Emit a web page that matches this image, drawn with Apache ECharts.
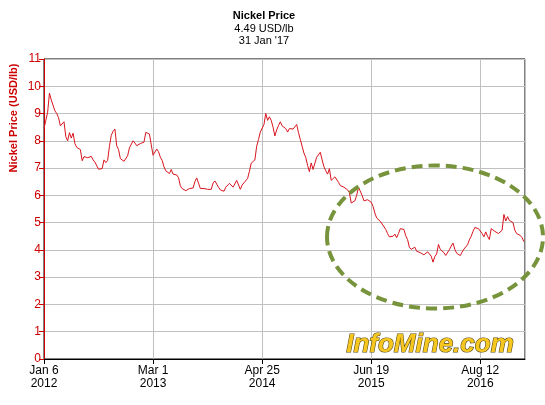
<!DOCTYPE html>
<html>
<head>
<meta charset="utf-8">
<script src="https://cdn.jsdelivr.net/npm/echarts@6/dist/echarts.min.js"></script>
<style>
  html, body { margin: 0; padding: 0; background: #fff; }
  #chart { width: 545px; height: 405px; }
</style>
</head>
<body>
<div id="chart"></div>
<script>
// weekly nickel price (USD/lb), one value per week starting Jan 6 2012
var prices = [
  8.45, 8.75, 9.05, 9.75, 9.5, 9.5, 9.1, 9.0, 8.85, 8.55,
  8.6, 8.7, 8.15, 8.0, 8.3, 8.1, 8.28, 7.9, 7.76, 7.74,
  7.68, 7.27, 7.42, 7.49, 7.38, 7.44, 7.43, 7.3, 7.22, 7.15,
  6.96, 6.9, 6.98, 7.3, 7.2, 7.28, 7.8, 8.2, 8.35, 8.43,
  7.82, 7.68, 7.35, 7.31, 7.25, 7.19, 7.45, 7.74, 7.74, 8.0,
  7.92, 7.82, 7.82, 7.9, 7.92, 7.95, 8.31, 8.29, 8.25, 7.85,
  7.47, 7.5, 7.7, 7.6, 7.4, 7.28, 7.05, 6.9, 6.92, 6.8,
  6.95, 6.78, 6.71, 6.75, 6.65, 6.35, 6.25, 6.19, 6.17, 6.16,
  6.25, 6.27, 6.27, 6.5, 6.64, 6.45, 6.25, 6.28, 6.25, 6.32,
  6.22, 6.17, 6.22, 6.45, 6.53, 6.55, 6.3, 6.2, 6.14, 6.15,
  6.3, 6.37, 6.44, 6.4, 6.3, 6.3, 6.55, 6.58, 6.22, 6.38,
  6.46, 6.51, 6.62, 6.88, 7.18, 7.22, 7.3, 7.8, 8.05, 8.32,
  8.33, 8.6, 9.0, 8.75, 8.88, 8.75, 8.5, 8.18, 8.4, 8.56,
  8.7, 8.55, 8.6, 8.45, 8.32, 8.45, 8.42, 8.43, 8.38, 8.6,
  8.3, 8.05, 7.8, 7.55, 7.39, 7.1, 6.87, 7.19, 6.95, 6.97,
  7.4, 7.4, 7.58, 7.3, 7.05, 6.9, 6.78, 6.98, 6.55, 6.52,
  6.68, 6.72, 6.48, 6.36, 6.36, 6.3, 6.31, 6.2, 6.1, 5.72,
  5.7, 5.8, 6.0, 6.3, 6.3, 6.0, 5.8, 5.75, 5.84, 5.9,
  5.75, 5.6, 5.35, 5.17, 5.12, 5.05, 4.95, 4.88, 4.75, 4.6,
  4.48, 4.45, 4.5, 4.58, 4.45, 4.6, 4.78, 4.78, 4.75, 4.52,
  4.38, 4.1, 4.02, 4.05, 4.1, 3.95, 3.91, 3.9, 3.86, 3.82,
  3.81, 3.93, 3.89, 3.77, 3.55, 3.76, 3.85, 4.2, 4.02, 3.97,
  3.9, 3.8, 3.79, 4.01, 4.14, 4.25, 4.02, 3.88, 3.83, 3.79,
  3.92, 4.03, 4.05, 4.19, 4.37, 4.5, 4.68, 4.82, 4.76, 4.78,
  4.72, 4.6, 4.48, 4.66, 4.5, 4.38, 4.78, 4.74, 4.68, 4.72,
  4.6, 4.6, 4.72, 5.3, 5.06, 5.22, 5.08, 5.12, 5.0, 4.72,
  4.6, 4.6, 4.53, 4.45, 4.3
];
var tickWeeks = [0, 60, 120, 180, 240];
var tickLabels = ['Jan 6\n2012', 'Mar 1\n2013', 'Apr 25\n2014', 'Jun 19\n2015', 'Aug 12\n2016'];
var lastWeek = 264.6; // 31 Jan 2017
var yTicks = 11;

var red = '#cc0000';
var font = '"Liberation Sans", Arial, sans-serif';

var lineData = prices.map(function (v, i) { return [i, v]; });

var myChart = echarts.init(document.getElementById('chart'));
myChart.setOption({
    animation: false,
    backgroundColor: '#fff',
    grid: {
        left: 44,
        right: 20,
        top: 59,
        bottom: 46,
        show: true,
        borderColor: '#000',
        borderWidth: 1
    },
    xAxis: {
        type: 'value',
        min: 0,
        max: lastWeek,
        interval: 60,
        axisLine: { lineStyle: { color: '#000', width: 1 } },
        axisTick: { show: true, length: 5, lineStyle: { color: '#000' } },
        axisLabel: {
            color: '#000',
            fontFamily: font,
            fontSize: 12,
            lineHeight: 13,
            margin: 5,
            showMaxLabel: false,
            formatter: function (v) {
                var k = tickWeeks.indexOf(Math.round(v));
                return (k >= 0 && Math.abs(v - tickWeeks[k]) < 0.01) ? tickLabels[k] : '';
            }
        },
        splitLine: { show: true, lineStyle: { color: '#c0c0c0', width: 1 } }
    },
    yAxis: {
        type: 'value',
        min: 0,
        max: yTicks,
        interval: 1,
        axisLine: { show: true, lineStyle: { color: red, width: 1 } },
        axisTick: { show: true, length: 5, lineStyle: { color: red } },
        axisLabel: { color: red, fontFamily: font, fontSize: 12, margin: 3 },
        splitLine: { show: true, lineStyle: { color: '#c0c0c0', width: 1 } }
    },
    graphic: [
        {
            type: 'text', x: 264, y: 10, z: 10,
            style: { text: 'Nickel Price', fill: '#000', font: 'bold 11px ' + font, align: 'center' }
        },
        {
            type: 'text', x: 264, y: 23, z: 10,
            style: { text: '4.49 USD/lb', fill: '#000', font: '11px ' + font, align: 'center' }
        },
        {
            type: 'text', x: 264, y: 35, z: 10,
            style: { text: '31 Jan \'17', fill: '#000', font: '11px ' + font, align: 'center' }
        },
        {
            type: 'text', x: 14, y: 118, rotation: Math.PI / 2, z: 10,
            style: {
                text: 'Nickel Price (USD/lb)', fill: red, font: 'bold 11px ' + font,
                align: 'center', verticalAlign: 'middle'
            }
        },
        {
            type: 'text', x: 430, y: 345, z: 1,
            style: {
                text: 'InfoMine.com',
                font: 'italic bold 26px "Liberation Sans", Arial, sans-serif',
                align: 'center', verticalAlign: 'middle',
                fill: '#f6c71e',
                stroke: '#5a4a1a', lineWidth: 1.2,
                shadowColor: 'rgba(0,0,0,0.5)', shadowOffsetX: 1.5, shadowOffsetY: 1.5, shadowBlur: 1
            }
        },
        {
            type: 'ellipse', z: 20,
            shape: { cx: 435, cy: 237, rx: 108, ry: 71.5 },
            style: { fill: null, stroke: '#77933c', lineWidth: 4, lineDash: [11, 6] }
        }
    ],
    series: [
        {
            type: 'line',
            data: lineData,
            showSymbol: false,
            z: 5,
            lineStyle: { color: '#d9141e', width: 1 }
        }
    ]
});
</script>
</body>
</html>
